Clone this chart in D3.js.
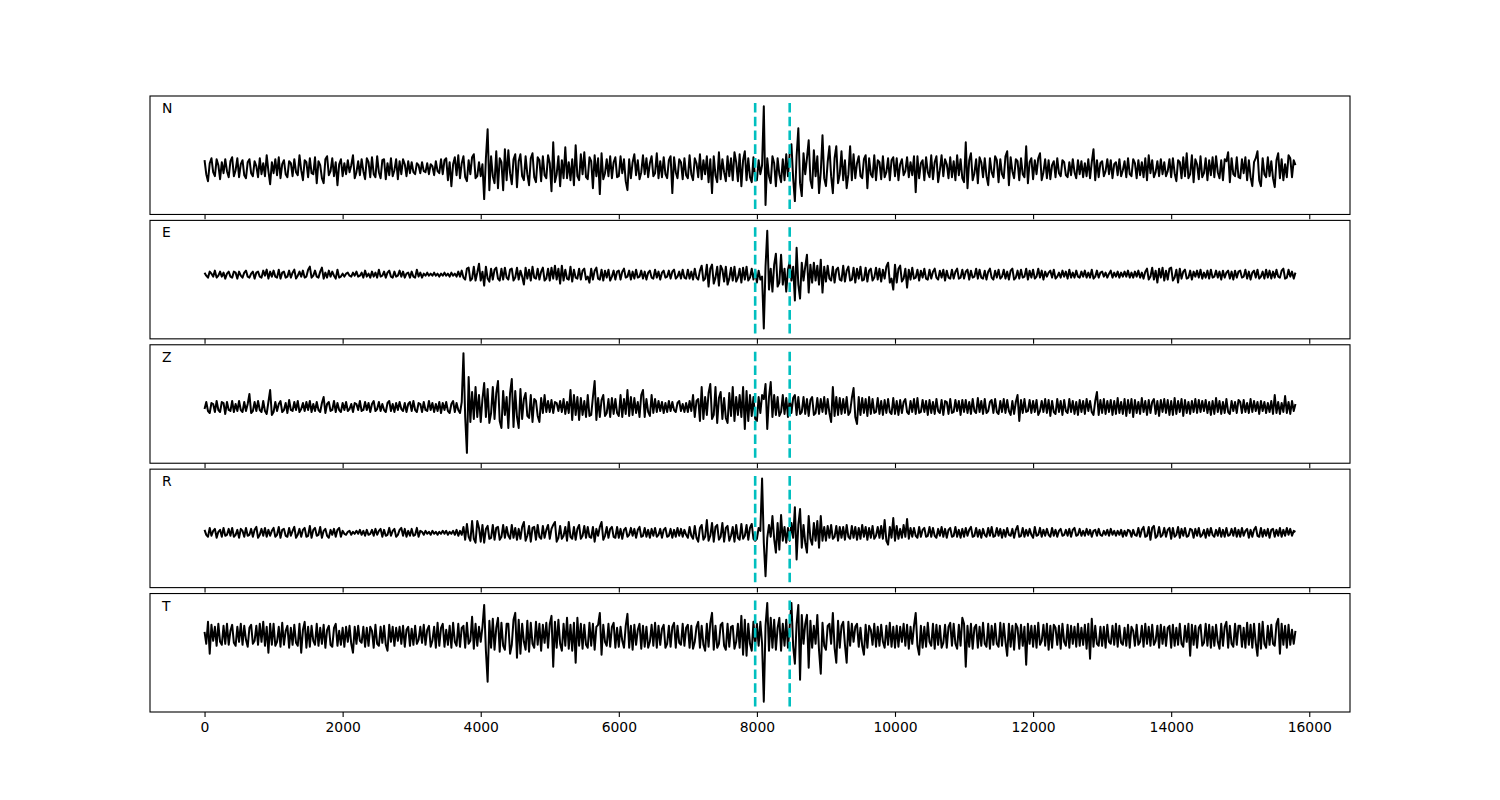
<!DOCTYPE html>
<html>
<head>
<meta charset="utf-8">
<script src="https://cdn.jsdelivr.net/npm/d3@7"></script>
<style>
  body { margin: 0; background: #fff; }
  svg { display: block; }
  text { font-family: "DejaVu Sans", sans-serif; }
</style>
</head>
<body>
<svg id="chart" width="1500" height="800"></svg>
<script>
// ---------- data ----------
const sampleStep = 25;               // samples between stored values
const channelNames = ["N", "E", "Z", "R", "T"];
const pickTimes = [7975, 8475];      // dashed markers
const xTickValues = [0, 2000, 4000, 6000, 8000, 10000, 12000, 14000, 16000];

const traceN = [
 8,-6,-13,5,10,-4,-8,9,3,-11, 6,-5,9,-3,-9,7,11,-8,-2,10, -9,4,8,-7,-10,6,9,-5,-8,7, 2,-9,10,-6,5,-8,13,-3,-16,6,
 -5,9,-7,11,-10,4,8,-6,-9,7, 5,-8,9,-4,-7,13,-2,-12,8,6, -9,10,-5,-6,11,-15,7,3,-10,-15, 9,12,-7,-3,10,-8,6,-17,4,9,
 -8,5,-6,8,-4,3,13,-10,-4,7, -7,9,-3,-11,10,6,-9,11,-6,-9, 12,-4,-10,8,9,-11,5,-7,10,-8, -2,9,-11,7,-6,9,4,-8,7,-5,
 6,-4,-6,5,3,-5,6,-3,-4,5, -6,4,2,-7,7,-3,-5,9,-6,8, 10,-12,6,-18,4,11,-7,13,-10,5, 12,-9,-13,8,-6,11,14,-10,-8,6,
 -8,4,-31,10,39,-22,12,-8,-15,17, -20,10,6,-22,19,-12,18,-5,-16,9, 14,-19,7,14,-8,-12,12,-6,-17,10, 15,-9,-14,11,8,-13,12,-7,-10,13,
 5,-23,26,-14,-6,12,-18,8,-10,21, -10,6,-12,9,-17,23,-8,-12,14,-6, 16,-9,-11,11,7,-20,13,-8,10,-26, 15,-11,-5,9,-8,12,-10,6,11,-9,
 -8,12,-5,9,-13,-22,9,-10,6,14, -7,8,-11,-4,13,-6,10,-9,5,12, -8,-5,15,-10,7,-9,11,-6,-10,8, 12,-25,11,-4,-10,9,6,-11,10,-7,
 -10,13,-6,-12,10,5,-9,14,-11,8, -6,12,-14,9,-25,12,-7,-14,16,-11, 9,-4,-13,12,-8,10,-12,16,6,-13, 14,-18,8,17,-12,10,-9,-14,11,-12,
 -12,8,-6,3,62,-37,10,-8,-15,12, 5,-18,10,-6,-14,9,-12,14,-8,15, 24,-10,-33,12,40,-15,-28,15,-6,10, 28,-12,-20,18,-8,12,-25,-4,33,-10,
 -18,6,22,-8,-25,10,22,-15,-6,17, -12,8,-20,-6,22,-12,14,-10,5,12, -8,-10,9,13,-20,10,-6,-9,13,-12, 8,6,-11,12,-9,-4,10,-12,8,11,
 -8,10,-12,4,9,-7,-3,11,-9,6, -7,12,-24,12,-10,5,8,-12,11,-4, -9,13,-11,6,12,-14,-2,13,-8,9, 4,-10,11,-9,7,-12,13,-7,9,-10,
 -14,26,-20,8,15,-12,-5,9,-15,11, 6,-9,10,-8,-17,10,-4,-9,12,8, -14,9,-6,-10,12,17,-17,11,-3,-10, 9,7,-12,10,-6,-9,22,-15,6,10,
 -11,8,-6,10,15,-12,-4,9,-10,8, -11,3,7,-9,10,-5,-8,8,6,-7, -9,6,-7,9,-4,-10,8,-6,7,-9, 5,-8,9,-10,6,19,-12,8,-9,5,
 7,-8,-3,9,-6,8,-10,4,6,-7, 9,-8,-2,7,-9,10,-6,-8,9,5, -10,8,-7,6,-9,10,-12,13,-5,8, -9,-4,7,-8,9,-6,6,-8,-3,9,
 -9,10,-5,-13,8,6,-10,11,-8,15, -10,-6,13,-14,9,4,-11,12,-9,-5, 10,-12,8,-7,11,-9,12,-4,-10,8, -12,9,7,16,-14,10,-6,-8,11,-9,
 -10,9,-5,11,-12,8,-9,-18,6,10, 17,-12,-18,10,-6,-9,11,-8,7,-10, -19,8,15,-10,9,-12,4,-9,13,10, -9,8,3
];
const traceE = [
 2,-1,-3,3,1,-2,4,-3,-1,3, -2,2,-4,1,3,-2,-3,3,2,-4, 3,-1,-3,2,4,-2,-3,1,3,-4, 2,3,-2,-3,4,-1,5,-4,3,-2,
 4,-2,-3,5,-4,2,3,-3,-2,4, -3,2,5,-4,-1,3,-2,4,-3,-2, 5,8,-3,-1,4,-2,-3,3,7,-4, 2,-3,4,-2,3,-1,-4,5,-3,-2,
 1,-2,1,2,-1,-2,2,-1,3,-2, -1,2,-3,4,-2,1,-3,3,-2,2, -3,5,-2,-1,3,-3,2,4,-2,-3, 3,-2,-1,4,-2,3,-3,1,2,-3,
 3,-2,-3,5,-2,2,-3,1,-1,2, -1,1,-1,2,-1,1,-2,1,-1,2, -1,1,-2,2,-1,1,-2,3,-2,4, -3,-5,6,7,-6,-4,8,-6,2,11,
 -6,3,-11,8,-4,-7,6,-5,5,7, -4,-6,6,-5,7,-3,-5,5,6,-6, -3,7,-5,4,-2,-10,7,-4,5,-6, 8,-3,-4,6,-5,3,7,-6,-4,6,
 -6,7,-4,9,-5,6,-9,9,-6,5, -4,-5,8,-7,5,-3,-4,6,-5,4, 6,-5,-2,-8,6,-5,4,7,-4,-5, 5,-6,4,-3,5,-6,-2,4,-5,3,
 4,-5,3,6,-3,-2,4,-5,3,-4, 5,-3,-2,4,-4,3,-5,2,4,-3, -4,5,-3,3,-5,2,4,-3,-2,4, -4,3,5,-4,-2,3,-4,5,-3,-4,
 5,-4,3,-5,6,-3,-5,4,9,-6, -4,10,-12,6,10,-9,-3,8,-11,9, 5,-7,8,-10,-4,7,-6,8,-7,-3, 6,-8,7,-5,8,-6,-3,6,-5,4,
 -8,4,-5,-2,-54,8,44,-15,6,-17, 10,21,-12,-8,20,-10,6,-17,5,13, -6,8,-26,27,-10,-24,12,-6,8,20, -18,10,-8,12,-6,9,-10,15,-18,8,
 -7,9,-4,-6,8,-8,5,7,-5,-6, 9,-7,4,8,-6,-5,7,-8,6,-4, 8,-6,-5,7,-7,4,6,-6,-3,7, -5,6,-7,5,-4,8,12,-8,-4,-15,
 10,-8,6,9,-7,-4,6,-13,5,-5, 7,-4,-3,5,-6,4,-3,6,-4,-5, 5,-4,3,6,-3,-5,4,-3,5,-6, 4,-3,-4,5,-4,3,6,-4,-3,5,
 -4,3,5,-5,4,-3,-2,6,-4,5, -3,-4,4,-5,3,6,-3,-5,4,-3, 5,-4,-2,5,-4,3,-5,4,6,-5, -3,4,-4,5,-3,-2,6,-5,4,-3,
 5,-4,-2,6,-3,4,-5,3,-2,2, 4,-3,5,-4,-2,2,-3,4,-2,3, -4,5,-3,2,-3,4,-2,-3,3,-2, 4,-3,2,-3,5,-4,-2,4,-3,2,
 3,-2,2,-3,1,4,-3,2,-2,3, -3,2,-2,3,-2,4,-3,2,-3,3, -2,4,-3,2,-4,3,6,-5,-2,7, -5,4,-8,6,-3,7,-6,4,-5,6,
 7,-6,-3,5,-8,6,-4,3,5,-4, -3,4,-5,3,-2,4,-3,5,-4,2, -3,4,-4,5,-3,-2,4,-3,3,-5, 4,-3,2,4,-4,3,-5,4,-3,3,
 4,-3,-2,5,-4,3,-5,2,4,-3, 5,-4,-2,3,-4,5,-3,4,-4,3, -3,5,-2,-3,4,6,-4,-3,5,-2, 3,-4,2
];
const traceZ = [
 -2,5,-4,-6,4,3,-5,6,-3,-5, 5,4,-7,5,-3,-4,6,-5,3,-4, 6,-3,-5,5,-4,3,13,-6,-4,5, -4,6,-3,-5,6,-4,-7,5,17,-8,
 -5,5,-4,3,6,-5,-3,4,-6,7, -3,-4,5,-3,6,-5,-2,4,-4,5, -3,6,-5,3,-4,5,-3,-5,4,10, -6,3,5,-4,-3,6,-5,4,-3,-5,
 4,-3,5,-4,-2,3,-5,4,3,-3, 6,-4,-3,5,-3,4,-5,3,6,-4, -2,5,-4,3,-3,-5,4,6,-4,3, -5,4,-3,5,-2,-4,4,-5,3,5,
 -4,6,-3,-5,4,3,-5,5,-3,-4, 6,-3,4,-5,3,-4,5,-6,4,-3, 5,-4,-6,3,6,-5,4,-3,-6,5, 54,-10,-46,30,-15,15,-12,20,-10,12,
 -15,8,24,-10,18,-16,-6,20,-12,14, 26,-14,-21,16,-8,10,-21,14,28,-20, 16,-10,-21,18,-12,8,14,-9,-11,12, -15,8,6,-9,-15,9,-6,12,-5,6,
 -5,7,-6,5,4,-4,6,-5,8,-7, 5,-6,17,-13,12,-8,10,-13,9,-8, 6,-10,12,-9,-8,10,26,-13,9,-10, 7,12,-9,-6,8,-10,9,-7,8,-6,
 -9,12,-10,8,-7,17,-9,10,-8,9, -6,5,-10,12,17,-10,8,-5,-9,12, -6,8,-5,6,-4,5,-6,4,-5,6, -4,5,-3,-5,4,6,-4,3,-5,4,
 -5,6,-4,12,-10,6,8,-14,20,-12, 10,-8,14,23,-12,-8,20,-16,9,15, -12,9,-11,-16,14,-9,20,-14,10,-8, 12,-10,20,-22,16,-14,12,-9,10,-12,
 -14,10,-6,12,8,23,-22,10,25,-10, 12,-8,10,-9,-5,12,-7,9,-10,8, -6,9,12,-8,10,-7,-5,10,-7,8, -9,7,10,-8,-6,9,-7,8,-5,10,
 -7,8,-6,-15,20,-9,10,-8,9,-7, 8,-6,10,-8,-5,9,19,-10,-17,10, -8,9,-6,8,-9,10,-7,8,-6,-5, 9,-7,6,-8,7,-6,8,-5,-7,9,
 -7,6,-8,7,-6,5,8,-5,-7,6, -5,8,-7,9,-6,-5,7,-5,6,-8, 7,-6,5,-7,8,-4,-6,7,-8,6, 5,-7,8,-6,-5,7,-4,6,-8,7,
 -5,7,-6,5,-7,8,-4,-6,9,-5, 6,-7,8,-6,-4,5,7,-6,8,-5, -7,6,-5,8,-6,7,-4,-8,6,-7, 5,12,-14,7,-6,8,-5,-4,7,-6,
 6,-5,7,-8,-4,6,-5,8,-6,7, -9,6,-5,-7,8,-5,6,-8,7,-4, -6,8,-5,6,-7,5,-8,7,-5,6, -7,8,-4,6,-5,-8,6,15,-8,7,
 -6,8,-7,6,-5,7,-8,6,-7,9, -6,5,-7,8,-9,7,-6,8,-10,7, -6,5,-7,9,-5,6,-8,7,-6,5, 8,-7,6,-9,7,-5,8,-6,7,-8,
 6,-8,9,-7,6,-5,8,-9,7,-6, 5,-7,6,-5,8,-6,7,-5,6,-4, 7,-6,5,-8,6,-7,9,-5,6,-7, 5,-6,8,-5,-7,6,-4,5,-6,7,
 5,-6,7,-5,4,-6,8,-5,6,-4, 5,-7,6,-4,5,-6,4,-5,6,-7, 12,-6,5,-7,4,-5,11,-6,5,-7, 6,-4,3
];
const traceR = [
 3,-2,-4,5,-3,2,4,-5,1,3, -4,5,-3,-2,4,-3,5,-4,-2,3, -5,4,2,-4,5,-3,-2,4,-4,3, 6,-5,-2,4,-3,5,-4,3,-3,2,
 5,-4,-2,6,-5,3,4,-3,-4,5, -3,2,6,-5,-2,4,-4,3,5,-4, -3,7,-5,3,5,-3,-2,6,-5,2, 4,-3,-5,3,-2,4,-4,3,5,-4,
 2,-1,-2,1,2,-2,1,-1,2,-1, 3,-2,2,-3,3,-2,-1,3,-3,4, -2,2,4,-4,3,-3,-2,5,-3,2, 4,-4,-2,3,5,-3,4,-4,2,-3,
 4,-3,-2,5,-4,2,1,-2,2,-1, 1,-2,2,-1,1,-2,1,-1,2,-1, 2,-2,1,-1,2,-2,3,-3,2,-2, 6,-7,9,-4,-8,12,-6,-10,12,5,
 -9,8,-10,4,7,-6,-5,8,-7,5, 6,-7,-4,8,-5,6,-3,-6,8,-5, 5,-7,4,-6,6,11,-8,-3,7,-9, 5,6,-7,8,-4,-6,7,-5,3,8,
 -6,4,8,11,-9,-5,7,-6,-3,6, -8,11,-4,-6,6,-7,4,8,-6,-3, 7,-5,6,-4,-5,6,-9,4,-3,6, 11,-7,-3,6,-5,4,6,-4,-5,6,
 -5,4,-6,3,5,-4,-2,5,-3,4, -5,3,6,-4,-3,5,-4,3,-5,4, -3,5,-4,-2,4,-5,3,5,-4,-3, 4,-5,3,-4,5,-3,4,-4,3,-2,
 -5,6,-3,-6,7,-5,-9,5,8,-7, -4,13,-8,-3,10,-9,6,8,-7,-4, 10,-9,5,7,-8,-3,6,-9,8,-5, -7,9,-6,-3,8,-7,5,9,-6,-8,
 -6,5,2,55,-10,-44,-5,8,-4,17, -6,-20,10,-17,18,-8,6,-10,5,-8, 10,-5,26,-27,8,24,-15,8,-10,-20, 17,-6,-12,10,-8,12,-15,17,-8,6,
 -8,7,-5,8,-6,-4,7,-8,6,-5, 6,-7,8,-4,-6,7,-5,6,-7,5, -6,8,-4,6,-7,5,-5,7,-6,-3, 6,-5,7,-6,13,-8,-12,6,-5,15,
 -8,7,-6,4,-5,8,-4,14,-6,5, -4,5,-3,-5,6,-4,3,5,-4,-3, 6,-4,5,-3,-5,4,-3,6,-4,4, -5,3,5,-4,-3,6,-4,3,-5,4,
 -4,5,-3,3,6,-4,-3,5,-4,3, -5,4,-2,-4,5,-3,6,-4,-3,5, -3,4,-5,3,-4,5,-2,-3,4,-5, 3,7,-4,-3,5,-4,3,-3,4,-2,
 -5,6,-3,-2,5,-4,3,-3,4,-2, -4,5,-3,3,-4,2,4,-3,-2,3, -3,4,-4,3,5,-3,-2,4,-3,2, -3,4,-2,3,-4,2,3,-3,4,-2,
 -3,2,-2,3,-3,4,-2,2,-3,2, -2,3,-4,2,-3,3,2,-4,3,-2, -3,5,-4,3,6,-4,-3,6,-7,5, 7,-5,-3,6,-4,-2,5,-4,3,5,
 -6,5,-4,-2,6,-5,4,-3,5,-4, -3,4,3,-5,4,-3,5,-4,-2,3, -5,4,-3,5,-2,-4,3,-3,5,-4, 3,-4,5,-3,-2,4,-3,5,-4,3,
 -4,5,-3,2,4,-5,3,-4,3,6, -3,-4,5,-4,3,-3,4,-5,3,4, -4,3,-3,5,-4,3,-3,5,-2,4, -3,2,1
];
const traceT = [
 4,-8,14,-18,11,-5,9,-10,12,-6, -9,10,-8,12,-9,5,11,-7,-10,9, -6,12,-9,10,-4,-11,8,11,-8,-5, 10,-9,12,-6,14,-10,9,-17,12,-9,
 12,-10,-6,9,-11,13,-9,5,10,-12, 8,-9,11,-7,-10,12,-17,6,14,-12, 9,-11,10,-5,-9,12,-10,8,-8,11, -12,6,10,-9,-11,8,12,-10,5,-9,
 8,-11,9,-6,10,-8,-17,9,-8,10, -5,-7,9,-11,8,-10,9,5,-12,11, -8,-10,9,-7,10,-9,-15,11,-6,9, -10,8,-5,9,-8,10,-11,6,9,-10,
 7,-9,10,-8,-4,9,-7,11,-9,6, 10,-11,-5,9,-12,13,-10,8,12,-11, 6,-9,10,-12,13,-6,-10,12,-11,8, 10,-12,13,-8,-5,19,-13,12,-10,9,
 -6,9,31,-15,-46,15,-12,17,-14,8, 18,-16,13,-10,-14,12,12,-18,-9,16, 23,-22,16,-18,12,-6,-14,15,-16,13, -8,-12,14,-9,12,-15,11,-7,13,-12,
 12,20,-31,14,-12,16,-8,-15,12,-10, 18,-13,11,-15,13,-27,18,-10,12,-13, 11,-9,-12,13,-10,12,-14,9,11,23, -19,11,-6,-10,12,-11,9,13,-12,8,
 -11,9,-5,-12,10,22,-12,10,-14,11, -9,6,12,-13,10,-11,9,-12,-6,11, -10,13,-12,10,-9,7,11,-12,-8,10, -11,9,13,-12,10,-7,-9,12,-10,8,
 11,-12,10,-13,-6,9,14,-12,10,-9, -15,12,-11,13,23,-14,10,-12,-8,11, 13,-10,-14,12,-11,9,10,-13,-6,12, -12,20,-19,16,-20,12,-8,-15,14,-10,
 12,-10,14,-8,-66,10,33,-15,18,-12, 16,-14,8,18,-15,12,-10,16,-12,10, 33,-10,-28,12,31,-44,21,-8,12,21, -32,15,-12,10,-8,21,-15,-38,13,-10,
 -14,10,12,-8,23,-12,-27,15,-12,10, 14,-9,-27,14,-10,12,-6,9,12,-11, 8,-10,-19,11,-12,10,6,-9,12,-11, 9,-10,11,-6,-12,10,-9,13,-11,9,
 -12,10,-11,9,-6,12,-10,11,-13,9, -8,10,23,-10,-19,10,-12,9,-11,13, -6,-10,12,-13,11,-9,10,-12,-7,11, -12,9,13,-10,12,-8,-13,11,-10,18,
 12,-31,10,-11,12,-13,8,11,-12,9, -10,13,-8,-11,12,-13,10,-9,12,-8, -11,13,-10,12,-6,-20,12,-11,10,-14, 12,8,-13,11,-10,9,-29,12,-8,10,
 -11,10,-12,13,-9,-5,11,-10,12,-14, 10,-12,11,8,-9,10,-13,12,-6,-10, 11,-12,10,-8,9,-11,12,-10,8,-9, 11,-13,12,-23,17,-11,10,-8,-10,9,
 -10,9,-12,11,-6,-8,10,-9,12,-11, 10,-7,-9,8,-10,11,-12,9,5,-10, 11,-9,-6,10,-11,12,-8,9,-10,11, -9,-5,10,-12,11,-8,9,-10,8,10,
 -12,11,-10,8,-9,12,-8,-11,10,-6, 12,-20,11,-9,10,-12,8,11,-10,-7, 12,-10,11,-12,9,-10,11,-6,-13,12, -10,9,14,-12,10,-8,-11,12,-9,10,
 10,-11,8,-12,13,-9,11,-12,12,-7, -20,12,-13,14,-8,-12,10,-9,11,-8, -10,12,17,-18,12,-9,10,-12,11,-9, 6,-8,5
];
// marker extents (data units) per channel: [low, high]
const markerExtentN = [-41, 67];
const markerExtentE = [-59, 49];
const markerExtentZ = [-51, 57];
const markerExtentR = [-50, 59];
const markerExtentT = [-71, 37];

const channels = [
  { name: channelNames[0], values: traceN, extent: markerExtentN },
  { name: channelNames[1], values: traceE, extent: markerExtentE },
  { name: channelNames[2], values: traceZ, extent: markerExtentZ },
  { name: channelNames[3], values: traceR, extent: markerExtentR },
  { name: channelNames[4], values: traceT, extent: markerExtentT }
];

// ---------- layout ----------
const svg = d3.select("#chart");
const plotLeft = 150, plotRight = 1350, plotTop = 96, plotBottom = 712;
const hspace = 0.05;
const panelH = (plotBottom - plotTop) / (channels.length + (channels.length - 1) * hspace);
const gap = panelH * hspace;

const maxT = 15800;
const xPad = 0.05 * maxT;
const x = d3.scaleLinear().domain([-xPad, maxT + xPad]).range([plotLeft, plotRight]);

channels.forEach((ch, k) => {
  const y0 = plotTop + k * (panelH + gap);
  const [lo, hi] = ch.extent;
  const pad = 0.05 * (hi - lo);
  const y = d3.scaleLinear().domain([lo - pad, hi + pad]).range([y0 + panelH, y0]);

  const g = svg.append("g");
  const clipId = "clip" + k;
  svg.append("clipPath").attr("id", clipId)
    .append("rect").attr("x", plotLeft).attr("y", y0).attr("width", plotRight - plotLeft).attr("height", panelH);

  const step = maxT / (ch.values.length - 1);
  const line = d3.line()
    .x((d, i) => x(i * step))
    .y(d => y(d));

  g.append("path")
    .datum(ch.values)
    .attr("clip-path", `url(#${clipId})`)
    .attr("fill", "none")
    .attr("stroke", "#000")
    .attr("stroke-width", 2)
    .attr("stroke-linejoin", "round")
    .attr("d", line);

  g.selectAll("line.pick")
    .data(pickTimes)
    .enter().append("line")
    .attr("class", "pick")
    .attr("x1", d => x(d)).attr("x2", d => x(d))
    .attr("y1", y(lo)).attr("y2", y(hi))
    .attr("stroke", "#00bfbf")
    .attr("stroke-width", 2.6)
    .attr("stroke-dasharray", "9.6,4.2");

  g.append("rect")
    .attr("x", plotLeft).attr("y", y0)
    .attr("width", plotRight - plotLeft).attr("height", panelH)
    .attr("fill", "none").attr("stroke", "#000").attr("stroke-width", 1.1);

  const axis = d3.axisBottom(x).tickValues(xTickValues).tickSize(4.9).tickPadding(4.9)
    .tickFormat(k === channels.length - 1 ? d3.format("d") : () => "");
  const ax = g.append("g")
    .attr("transform", `translate(0,${y0 + panelH})`)
    .call(axis);
  ax.select(".domain").remove();
  ax.selectAll(".tick line").attr("stroke", "#000").attr("stroke-width", 1.1);
  ax.selectAll(".tick text")
    .attr("fill", "#000")
    .style("font-family", "'DejaVu Sans', sans-serif")
    .style("font-size", "13.9px");

  g.append("text")
    .attr("x", plotLeft + 12)
    .attr("y", y0 + 17)
    .attr("fill", "#000")
    .style("font-size", "13.9px")
    .text(ch.name);
});
</script>
</body>
</html>
